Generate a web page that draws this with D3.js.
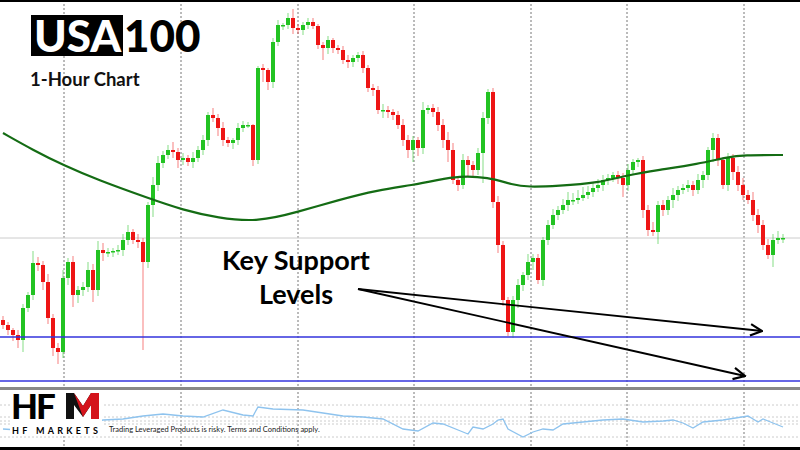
<!DOCTYPE html>
<html><head><meta charset="utf-8">
<script src="https://cdn.jsdelivr.net/npm/d3@7/dist/d3.min.js"></script>
<style>body{margin:0;background:#fff}svg{display:block;font-family:Lato,'Open Sans',sans-serif}</style>
</head><body><svg id="c" width="800" height="450"></svg>
<script>
const closes=[19375,19350,19325,19300,19460,19525,19685,19675,19590,19410,19260,19240,19610,19690,19525,19550,19565,19650,19550,19750,19735,19740,19745,19750,19800,19840,19800,19790,19690,19975,20075,20185,20225,20250,20240,20200,20210,20190,20210,20250,20300,20425,20410,20360,20300,20285,20300,20360,20375,20375,20200,20660,20650,20590,20790,20875,20875,20910,20860,20850,20875,20890,20870,20775,20760,20800,20760,20750,20700,20690,20710,20725,20660,20560,20550,20450,20450,20440,20425,20375,20300,20250,20300,20260,20450,20460,20440,20375,20300,20250,20100,20075,20200,20175,20150,20235,20410,20540,19990,19775,19500,19340,19500,19575,19625,19690,19710,19600,19800,19875,19925,19950,19975,20000,20000,20010,20025,20040,20060,20075,20100,20110,20125,20110,20075,20150,20190,20200,19950,19850,19840,19975,19950,20000,20025,20050,20060,20075,20050,20100,20125,20250,20310,20200,20075,20210,20140,20075,20025,20000,19925,19875,19775,19725,19800,19810,19810];
const wickUp=[20,15,10,25,20,15,60,30,20,40,20,25,40,20,30,20,25,40,30,45,35,20,15,25,30,35,15,30,20,15,40,35,20,25,40,20,25,15,30,20,25,15,35,20,30,15,10,25,20,15,5,10,20,10,20,25,10,25,45,20,15,20,20,10,15,20,10,15,20,25,15,15,20,15,20,20,30,20,15,20,30,25,20,15,40,15,20,25,30,40,35,15,30,20,20,25,30,15,20,30,20,15,20,30,15,40,20,20,15,25,30,20,30,40,35,40,40,30,25,30,25,20,15,20,25,30,15,10,20,25,40,20,25,20,35,20,20,25,20,30,20,15,25,20,15,25,20,30,35,25,40,30,25,30,30,35,20];
const wickDn=[20,25,30,40,60,20,25,30,40,30,40,60,30,35,60,40,30,25,60,30,40,20,25,20,30,25,20,30,440,30,60,30,25,20,30,40,25,20,30,20,25,30,20,40,30,20,30,25,20,15,30,20,60,40,30,20,25,20,30,20,25,20,15,20,60,30,25,20,20,30,25,20,25,20,30,20,40,30,25,20,30,40,60,40,30,20,25,30,40,60,20,30,20,60,30,25,150,30,30,40,30,20,30,40,30,25,40,20,30,25,20,25,20,30,25,20,15,20,25,20,30,25,20,30,60,30,20,25,40,30,20,60,30,25,40,30,20,20,30,20,40,25,60,30,20,30,40,30,25,20,30,40,25,20,60,20,25];
const maIdx=[0,6,12,19,29,36,43,51,59,67,75,82,87,91,97,102,105,111,119,125,131,139,145,148,156];
const maVal=[20335,20250,20175,20100,20010,19950,19910,19890,19940,20000,20050,20075,20100,20120,20115,20075,20065,20070,20085,20125,20150,20180,20215,20225,20225];
const oscIdx=[0,3,6,9,12,16,20,24,28,32,36,40,44,48,50,51,54,60,64,68,72,76,80,83,86,88,92,93,94,96,98,99,100,101,104,106,108,110,112,116,120,124,128,132,134,136,138,140,144,149,151,152,154,156];
const oscVal=[26,24,38,26,30,34,44,46,52,56,52,50,64,54,52,70,66,64,58,52,50,46,26,22,38,36,20,16,30,26,36,44,46,26,10,20,26,24,36,40,44,46,40,42,44,38,28,40,44,52,40,46,38,30];
const timeGrid=[12.2,35.6,59,82.2,105.6,124.8,148.2];
const supports=[19315,19095];
const lastPrice=19810;
const title1="USA", title2="100", subtitle="1-Hour Chart";
const annot=["Key Support","Levels"];

const svg=d3.select("#c");
const x=d3.scaleLinear().domain([0,156]).range([3,783]);
const y=d3.scaleLinear().domain([21000,19000]).range([0,400]);
const oy=d3.scaleLinear().domain([0,100]).range([442,392]);

svg.selectAll(".vg").data(timeGrid).join("line").attr("x1",d=>x(d)).attr("x2",d=>x(d)).attr("y1",0).attr("y2",448)
 .attr("stroke","#777").attr("stroke-dasharray","2,2").attr("stroke-width",1);
[405,417,421,424,437].forEach(v=>svg.append("line").attr("x1",0).attr("x2",800).attr("y1",v).attr("y2",v).attr("stroke","#ccc").attr("stroke-dasharray","2,2"));
svg.append("line").attr("x1",0).attr("x2",800).attr("y1",y(lastPrice)).attr("y2",y(lastPrice)).attr("stroke","#ccc");

const opens=closes.map((c,i)=>i?closes[i-1]:c+25);
const g=svg.append("g");
closes.forEach((c,i)=>{
 const o=opens[i], up=c>=o, col=up?"#22c322":"#ee1515";
 const hi=Math.max(o,c)+(wickUp[i]||15), lo=Math.min(o,c)-(wickDn[i]||20);
 g.append("line").attr("x1",x(i)).attr("x2",x(i)).attr("y1",y(hi)).attr("y2",y(lo)).attr("stroke",col).attr("stroke-opacity",0.55);
 const t=y(Math.max(o,c)), b=y(Math.min(o,c));
 g.append("rect").attr("x",x(i)-2).attr("width",4).attr("y",t).attr("height",Math.max(1.5,b-t)).attr("fill",col);
});

svg.append("path").datum(maIdx.map((d,i)=>[d,maVal[i]])).attr("d",d3.line().x(d=>x(d[0])).y(d=>y(d[1])).curve(d3.curveBasis))
 .attr("fill","none").attr("stroke","#146c14").attr("stroke-width",2.2);

svg.selectAll(".sp").data(supports).join("line").attr("x1",0).attr("x2",800).attr("y1",d=>y(d)).attr("y2",d=>y(d)).attr("stroke","#3333dd").attr("stroke-width",1.6);
svg.append("rect").attr("x",0).attr("y",387).attr("width",800).attr("height",3).attr("fill","#888");

svg.append("path").datum(oscIdx.map((d,i)=>[d,oscVal[i]])).attr("d",d3.line().x(d=>x(d[0])).y(d=>oy(d[1])))
 .attr("fill","none").attr("stroke","#8ec3ee").attr("stroke-width",1.3);

svg.append("rect").attr("x",0).attr("y",0).attr("width",800).attr("height",2).attr("fill","#000");
svg.append("rect").attr("x",0).attr("y",447).attr("width",800).attr("height",3).attr("fill","#000");

svg.append("rect").attr("x",31).attr("y",15).attr("width",92).attr("height",41).attr("fill","#000");
svg.append("text").attr("x",34).attr("y",52).attr("font-size",44).attr("font-weight",900).attr("fill","#fff").text(title1);
svg.append("text").attr("x",124).attr("y",52).attr("font-size",44).attr("font-weight",900).attr("fill","#000").text(title2);
svg.append("text").attr("x",30).attr("y",86).attr("font-size",18.5).attr("font-weight",700).attr("fill","#111").text(subtitle);

svg.append("text").attr("x",296).attr("y",270).attr("text-anchor","middle").attr("font-size",27).attr("font-weight",700).text(annot[0]);
svg.append("text").attr("x",296).attr("y",304).attr("text-anchor","middle").attr("font-size",27).attr("font-weight",700).text(annot[1]);
svg.append("defs").append("marker").attr("id","ah").attr("viewBox","0 0 10 10").attr("refX",9).attr("refY",5).attr("markerWidth",8).attr("markerHeight",8).attr("orient","auto")
 .append("path").attr("d","M1,1 L9,5 L1,9").attr("fill","none").attr("stroke","#000").attr("stroke-width",1.5);
[[151.8,19345],[148.4,19120]].forEach(e=>svg.append("line").attr("x1",x(71)).attr("y1",y(19555)).attr("x2",x(e[0])).attr("y2",y(e[1]))
 .attr("stroke","#000").attr("stroke-width",1.8).attr("marker-end","url(#ah)"));

svg.append("rect").attr("x",10).attr("y",390).attr("width",92).attr("height",46).attr("fill","#fff");
svg.append("text").attr("x",11).attr("y",419).attr("font-size",35).attr("font-weight",900).attr("fill","#000").attr("letter-spacing",-2).text("HF");
svg.append("path").attr("d","M66,393 L66,419 L74,419 L74,405 L83,417 L91,405 L91,419 L99,419 L99,393 L91,393 L83,406 L74,393 Z").attr("fill","#111");
svg.append("path").attr("d","M74,393 L83,406 L91,393 L99,393 L99,419 L91,419 L91,405 L83,417 Z").attr("fill","#d4141c");
svg.append("text").attr("x",12).attr("y",434).attr("font-size",9).attr("font-weight",700).attr("letter-spacing",3.3).text("HF MARKETS");
svg.append("text").attr("x",109).attr("y",432).attr("font-size",7.5).attr("fill","#222").text("Trading Leveraged Products is risky. Terms and Conditions apply.");
</script></body></html>
